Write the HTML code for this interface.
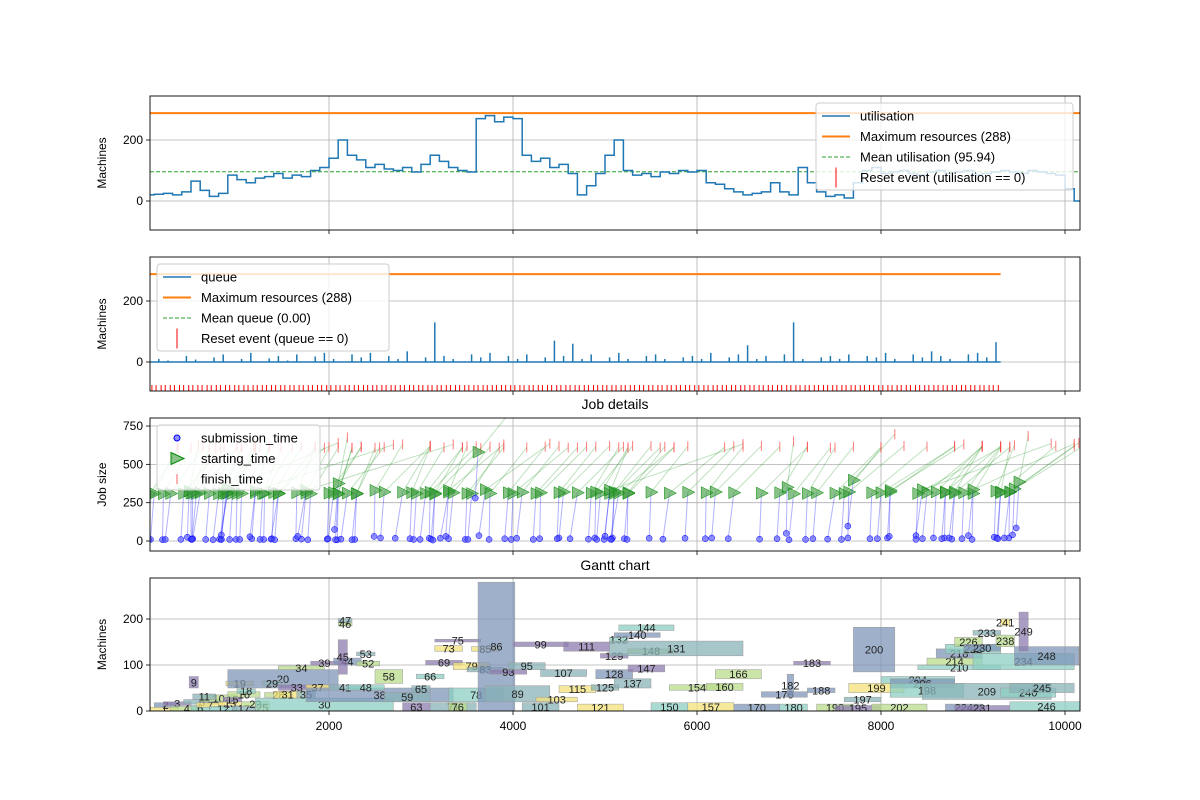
<!DOCTYPE html>
<html><head><meta charset="utf-8"><style>
body{margin:0;background:#fff}
svg{display:block;font-family:"Liberation Sans","DejaVu Sans",sans-serif}
</style></head><body>
<svg id="c" width="1200" height="800" viewBox="0 0 1200 800"></svg>
<script>
// ---- data ----
const utilisation=[20,22,25,20,30,65,35,15,25,85,70,60,75,80,90,75,85,80,100,110,140,200,150,135,110,120,105,100,110,95,120,150,130,110,100,95,270,280,260,275,270,150,130,140,110,120,90,20,50,90,150,200,100,85,90,80,95,90,100,95,100,60,55,40,30,20,25,30,60,30,20,110,60,30,15,20,10,60,100,110,90,95,100,90,85,95,100,90,95,100,85,90,95,100,95,90,100,95,90,85,40,0];
const queueVals=[0,10,5,0,20,8,0,15,25,0,10,30,0,12,20,5,25,0,18,30,10,0,25,15,30,0,20,10,35,0,15,130,20,10,0,25,15,30,0,20,10,25,0,15,70,20,60,10,25,0,15,30,10,0,20,25,10,0,15,20,10,30,0,15,25,55,10,20,0,25,130,10,0,15,20,10,25,0,20,15,30,10,0,25,15,35,20,10,0,25,30,15,65];
const meanUtil=95.94, maxRes=288;
const xTicks=[2000,4000,6000,8000,10000];
// jobs: id, start, duration, alloc y0, size, wait
const jobs=[[1,60,300,0,8,20],[2,100,250,8,10,40],[3,200,300,12,8,10],[4,280,350,0,10,60],[5,420,400,15,10,30],[6,500,200,0,12,0],[7,560,300,8,10,50],[9,480,100,50,25,20],[10,600,400,20,15,80],[11,520,250,25,12,10],[12,700,300,0,10,40],[13,800,250,12,8,60],[15,850,200,20,10,20],[16,900,350,30,12,90],[17,950,250,0,10,30],[18,1000,200,38,10,10],[19,880,300,55,10,50],[20,900,1200,50,40,70],[22,1050,300,10,10,20],[25,1200,150,0,15,40],[28,1300,300,30,10,10],[29,1280,200,55,10,30],[30,1200,1500,0,28,60],[31,1400,300,28,15,20],[33,1450,400,45,12,80],[34,1450,500,90,8,40],[35,1650,200,28,15,10],[37,1750,250,45,12,50],[38,1750,1600,20,30,90],[39,1800,300,100,8,30],[41,2000,350,45,12,20],[44,2050,300,100,15,60],[45,2100,100,80,75,40],[46,2100,150,185,8,10],[47,2100,150,193,8,30],[48,2200,400,45,12,70],[52,2300,250,98,10,20],[53,2300,200,120,8,50],[58,2500,300,60,30,10],[59,2600,500,20,20,40],[63,2800,300,0,18,80],[65,2900,200,40,15,20],[66,2950,300,70,10,30],[69,3050,400,100,10,60],[71,3100,500,0,18,10],[73,3150,300,130,12,40],[75,3150,500,150,6,20],[76,3300,200,0,18,90],[78,3300,600,20,30,30],[79,3350,400,90,15,50],[83,3500,400,85,10,20],[85,3550,300,130,10,40],[86,3620,400,0,280,30],[89,3700,700,20,35,70],[93,3750,400,80,10,10],[95,3950,400,90,15,40],[99,4000,600,140,10,20],[101,4100,400,0,18,60],[103,4250,450,20,10,30],[107,4300,500,75,15,10],[111,4550,500,130,20,50],[115,4500,400,40,15,20],[121,4700,500,0,15,80],[125,4850,300,45,12,30],[128,4900,400,70,20,10],[129,4950,300,115,10,40],[132,5050,200,150,10,60],[137,5100,400,50,20,20],[140,5100,500,160,10,30],[144,5150,600,175,12,90],[147,5250,400,85,15,40],[148,5250,500,125,10,10],[131,5050,1450,120,32,50],[150,5500,400,0,18,20],[154,5700,600,45,12,70],[157,5900,500,0,18,30],[160,6100,400,45,15,10],[166,6200,500,70,20,40],[170,6400,500,0,15,60],[176,6700,500,30,12,20],[180,6900,300,0,15,30],[182,6980,70,30,50,10],[183,7050,400,100,8,50],[188,7200,300,40,10,20],[190,7300,400,0,15,40],[195,7500,500,0,12,80],[197,7600,400,20,10,30],[199,7650,600,40,20,10],[200,7700,450,85,97,60],[202,7900,600,0,15,20],[204,8000,800,60,15,40],[206,8100,700,50,20,30],[198,8100,800,30,30,10],[209,8450,1400,25,35,70],[210,8400,900,90,10,20],[214,8500,600,100,15,50],[218,8600,500,115,20,30],[222,8700,600,125,20,10],[224,8700,400,0,15,40],[226,8800,300,140,20,60],[230,8900,400,130,15,20],[231,8800,600,0,12,30],[233,9000,300,165,10,10],[234,9000,1100,90,35,50],[238,9250,200,140,25,20],[240,9300,600,30,20,40],[241,9300,100,185,15,30],[245,9400,700,40,20,10],[246,9400,800,0,20,60],[248,9450,700,100,40,20],[249,9500,100,130,85,30]];
const gColors=['#8ccfc3','#f3e27a','#7f95b8','#8e7cb0','#b9dc8c','#8ab3b8'];
// ---- helpers ----
const S='http://www.w3.org/2000/svg', svg=document.getElementById('c');
function el(t,a,p){const e=document.createElementNS(S,t);for(const k in a)e.setAttribute(k,a[k]);(p||svg).appendChild(e);return e;}
const L=150,R=1080;
const X=t=>145+t*0.092;
const panels=[{top:96,bot:230,y0:201,k:0.305,ticks:[0,200],lab:'Machines'},{top:257,bot:391,y0:362,k:0.305,ticks:[0,200],lab:'Machines'},{top:418,bot:551,y0:541,k:0.1533,ticks:[0,250,500,750],lab:'Job size'},{top:578,bot:711,y0:711,k:0.46,ticks:[0,100,200],lab:'Machines'}];
const names=['utilisation-panel','queue-panel','job-details-panel','gantt-panel'];
panels.forEach((p,i)=>{
 p.Y=v=>p.y0-v*p.k;
 const g=el('g',{});
 
 
 p.g=g;
 const cid='clip'+i;
 const cp=el('clipPath',{id:cid},g);el('rect',{x:L,y:p.top,width:R-L,height:p.bot-p.top},cp);
 p.plot=el('g',{'clip-path':'url(#'+cid+')'},g);
 xTicks.forEach(t=>{el('line',{x1:X(t),x2:X(t),y1:p.top,y2:p.bot,stroke:'#b0b0b0','stroke-width':0.8},p.plot);
  el('line',{x1:X(t),x2:X(t),y1:p.bot,y2:p.bot+4,stroke:'#000','stroke-width':0.8},g);
  if(i==3){const tx=el('text',{x:X(t),y:p.bot+19,'text-anchor':'middle','font-size':12},g);tx.textContent=t;}});
 p.ticks.forEach(v=>{const y=p.Y(v);el('line',{x1:L,x2:R,y1:y,y2:y,stroke:'#b0b0b0','stroke-width':0.8},p.plot);
  el('line',{x1:L-4,x2:L,y1:y,y2:y,stroke:'#000','stroke-width':0.8},g);
  const tx=el('text',{x:L-7,y:y+4,'text-anchor':'end','font-size':12},g);tx.textContent=v;});
 const yl=el('text',{x:0,y:0,transform:`translate(106,${(p.top+p.bot)/2}) rotate(-90)`,'text-anchor':'middle','font-size':12},g);yl.textContent=p.lab;
 
});
function frame(p){const r=el('rect',{x:L,y:p.top,width:R-L,height:p.bot-p.top,fill:'none',stroke:'#000','stroke-width':0.9},p.g);}
function step(arr,p,dt,col,w){let d='';arr.forEach((v,i)=>{const x1=X(i*dt),x2=X((i+1)*dt),y=p.Y(v);d+=(i?'L':'M')+x1+','+y+'L'+x2+','+y;});
 const e=el('path',{d:d,fill:'none',stroke:col,'stroke-width':w},p.plot);return e;}
function hline(p,v,col,w,dash,x2){return el('line',{x1:L,x2:x2||R,y1:p.Y(v),y2:p.Y(v),stroke:col,'stroke-width':w,'stroke-dasharray':dash||''},p.plot);}
function legend(x,y,w,h,items,g){const lg=el('g',{},g);
 el('rect',{x:x,y:y,width:w,height:h,rx:3,fill:'#fff','fill-opacity':0.8,stroke:'#ccc'},lg);
 items.forEach((it,i)=>{const cy=y+13+i*20.5;const e=el('g',{},lg);
  if(it.t=='line')el('line',{x1:x+6,x2:x+34,y1:cy,y2:cy,stroke:it.c,'stroke-width':it.w,'stroke-dasharray':it.d||''},e);
  if(it.t=='tick')el('line',{x1:x+20,x2:x+20,y1:cy-10,y2:cy+10,stroke:it.c,'stroke-width':1},e);
  if(it.t=='dot')el('circle',{cx:x+20,cy:cy,r:3,fill:'#4444ff','fill-opacity':0.6,stroke:'#00f'},e);
  if(it.t=='tri')el('path',{d:`M${x+14},${cy-6}L${x+27},${cy}L${x+14},${cy+6}Z`,fill:'#3a9a3a','fill-opacity':0.6,stroke:'#080'},e);
  if(it.t=='ftick')el('line',{x1:x+20,x2:x+20,y1:cy-5,y2:cy+5,stroke:'#f66','stroke-width':1},e);
  const tx=el('text',{x:x+44,y:cy+4.5,'font-size':13},e);tx.textContent=it.s;});}
// ---- panel 1 ----
let p=panels[0];
hline(p,maxRes,'#ff7f0e',2);
hline(p,meanUtil,'#2ca02c',1,'4,2');
step(utilisation,p,100,'#1f77b4',1.5);
frame(p);
legend(816,103,257,87,[{t:'line',c:'#1f77b4',w:1.5,s:'utilisation'},{t:'line',c:'#ff7f0e',w:2,s:'Maximum resources (288)'},{t:'line',c:'#2ca02c',w:1,d:'4,2',s:'Mean utilisation (95.94)'},{t:'tick',c:'#f00',s:'Reset event (utilisation == 0)'}],p.g);
// ---- panel 2 ----
p=panels[1];
hline(p,maxRes,'#ff7f0e',2,'',X(queueVals.length*100));
hline(p,0,'#2ca02c',1,'4,2',X(queueVals.length*100));
queueVals.forEach((v,i)=>{const x=X(i*100+50);
 const b=el('line',{x1:x,x2:x,y1:p.Y(0),y2:p.Y(v),stroke:'#1f77b4','stroke-width':1.5},p.plot);
 
 [20,75].forEach(o=>{el('line',{x1:X(i*100+o),x2:X(i*100+o),y1:p.bot-6,y2:p.bot,stroke:'#f00','stroke-width':1},p.plot);});});
el('line',{x1:L,x2:X(queueVals.length*100),y1:p.Y(0),y2:p.Y(0),stroke:'#1f77b4','stroke-width':1.5},p.plot);
frame(p);
legend(157,264,232,87,[{t:'line',c:'#1f77b4',w:1.5,s:'queue'},{t:'line',c:'#ff7f0e',w:2,s:'Maximum resources (288)'},{t:'line',c:'#2ca02c',w:1,d:'4,2',s:'Mean queue (0.00)'},{t:'tick',c:'#f00',s:'Reset event (queue == 0)'}],p.g);
// ---- panel 3 ----
p=panels[2];
jobs.forEach(j=>{const [id,st,du,y0,sz,w]=j;const sub=st-w,fin=st+du;
 const xs=X(sub),xb=X(st),xf=X(fin),ys=p.Y(sz),yb=p.Y(sz+300),yf=p.Y(sz+600);
 el('line',{x1:xs,y1:ys,x2:xb,y2:yb,stroke:'#00f','stroke-opacity':0.3,'stroke-width':1},p.plot);
 el('line',{x1:xb,y1:yb,x2:xf,y2:yf,stroke:'#080','stroke-opacity':0.25,'stroke-width':1},p.plot);
 const c=el('circle',{cx:xs,cy:ys,r:3,fill:'#4444ff','fill-opacity':0.6,stroke:'#00f','stroke-width':0.5},p.plot);
 
 const t=el('path',{d:`M${xb-5},${yb-6}L${xb+7},${yb}L${xb-5},${yb+6}Z`,fill:'#3a9a3a','fill-opacity':0.6,stroke:'#080','stroke-width':0.5},p.plot);
 
 const f=el('line',{x1:xf,x2:xf,y1:yf-5,y2:yf+5,stroke:'#f44','stroke-opacity':0.7},p.plot);
 });
frame(p);
let tt=el('text',{x:615,y:409,'text-anchor':'middle','font-size':14},p.g);tt.textContent='Job details';
legend(157,425,163,65,[{t:'dot',s:'submission_time'},{t:'tri',s:'starting_time'},{t:'ftick',s:'finish_time'}],p.g);
// ---- panel 4 ----
p=panels[3];
jobs.forEach(j=>{const [id,st,du,y0,sz]=j;
 const r=el('rect',{x:X(st),y:p.Y(y0+sz),width:du*0.092,height:sz*p.k,fill:gColors[id%gColors.length],'fill-opacity':0.75,stroke:'#999','stroke-width':0.5},p.plot);
 
 const tx=el('text',{x:X(st+du/2),y:p.Y(y0+sz/2)+4,'text-anchor':'middle','font-size':11,fill:'#222'},p.plot);tx.textContent=id;});
frame(p);
tt=el('text',{x:615,y:570,'text-anchor':'middle','font-size':14},p.g);tt.textContent='Gantt chart';
</script>
</body></html>
